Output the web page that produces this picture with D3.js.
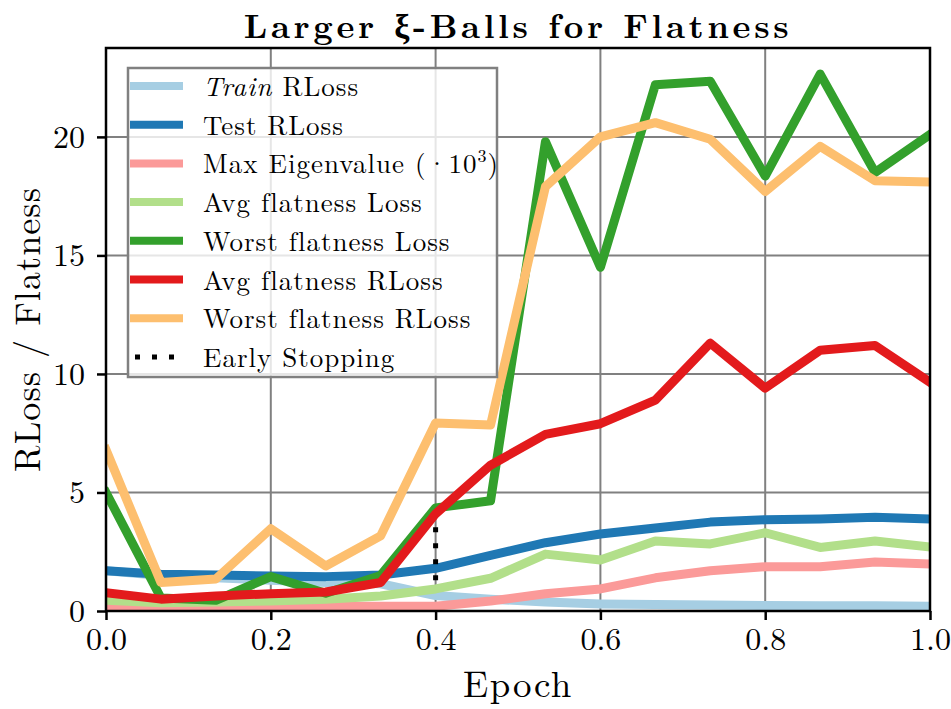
<!DOCTYPE html>
<html>
<head>
<meta charset="utf-8">
<script src="https://cdn.jsdelivr.net/npm/d3@7"></script>
<style>
  body { margin: 0; background: #fff; }
  text { font-family: "Latin Modern Roman", "Liberation Serif", "DejaVu Serif", serif; fill: #000; }
</style>
</head>
<body>
<div id="chart"></div>
<script>
// data
const epochs = [0, 0.0667, 0.1333, 0.2, 0.2667, 0.3333, 0.4, 0.4667, 0.5333, 0.6, 0.6667, 0.7333, 0.8, 0.8667, 0.9333, 1.0];
const trainRLoss = [1.7, 1.5, 1.4, 1.3, 1.2, 1.15, 0.65, 0.5, 0.38, 0.3, 0.27, 0.25, 0.23, 0.22, 0.22, 0.2];
const testRLoss = [1.7, 1.55, 1.52, 1.48, 1.45, 1.52, 1.8, 2.35, 2.88, 3.25, 3.5, 3.75, 3.85, 3.88, 3.95, 3.88];
const maxEigen = [0.2, 0.2, 0.2, 0.2, 0.2, 0.2, 0.2, 0.42, 0.73, 0.93, 1.4, 1.7, 1.87, 1.87, 2.07, 1.98];
const avgFlatLoss = [0.45, 0.35, 0.38, 0.42, 0.5, 0.63, 0.93, 1.38, 2.4, 2.15, 2.95, 2.83, 3.3, 2.68, 2.95, 2.7];
const worstFlatLoss = [5.0, 0.55, 0.45, 1.45, 0.75, 1.5, 4.35, 4.65, 19.8, 14.5, 22.2, 22.35, 18.35, 22.65, 18.5, 20.1];
const avgFlatRLoss = [0.77, 0.5, 0.63, 0.73, 0.8, 1.2, 4.1, 6.15, 7.45, 7.9, 8.9, 11.3, 9.4, 11.0, 11.2, 9.65];
const worstFlatRLoss = [6.8, 1.2, 1.35, 3.47, 1.9, 3.17, 7.93, 7.85, 17.9, 20.0, 20.6, 19.9, 17.7, 19.6, 18.15, 18.1];
const earlyStop = {x: 0.4, y0: 1.3, y1: 3.6};
const xTicks = [0, 0.2, 0.4, 0.6, 0.8, 1.0];
const yTicks = [0, 5, 10, 15, 20];

const seriesList = [
  {name: "Train RLoss", values: trainRLoss, color: "#a6cee3"},
  {name: "Test RLoss", values: testRLoss, color: "#1f78b4"},
  {name: "Max Eigenvalue", values: maxEigen, color: "#fb9a99"},
  {name: "Avg flatness Loss", values: avgFlatLoss, color: "#b2df8a"},
  {name: "Worst flatness Loss", values: worstFlatLoss, color: "#33a02c"},
  {name: "Avg flatness RLoss", values: avgFlatRLoss, color: "#e31a1c"},
  {name: "Worst flatness RLoss", values: worstFlatRLoss, color: "#fdbf6f"}
];

// dimensions
const W = 951, H = 709;
const margin = {top: 48, right: 21, bottom: 98, left: 106},
    width = W - margin.left - margin.right,
    height = H - margin.top - margin.bottom;

const svg = d3.select("#chart")
  .append("svg")
  .attr("width", W)
  .attr("height", H);

const g = svg.append("g")
  .attr("transform", `translate(${margin.left},${margin.top})`);

const x = d3.scaleLinear().domain([0, 1]).range([0, width]);
const y = d3.scaleLinear().domain([0, 23.75]).range([height, 0]);

// grid
g.append("g").selectAll("line")
  .data(xTicks)
  .join("line")
  .attr("x1", d => x(d)).attr("x2", d => x(d))
  .attr("y1", 0).attr("y2", height)
  .attr("stroke", "#808080").attr("stroke-width", 2);
g.append("g").selectAll("line")
  .data(yTicks)
  .join("line")
  .attr("x1", 0).attr("x2", width)
  .attr("y1", d => y(d)).attr("y2", d => y(d))
  .attr("stroke", "#808080").attr("stroke-width", 2);

// clip
svg.append("defs").append("clipPath").attr("id", "clip")
  .append("rect").attr("width", width).attr("height", height);

const plot = g.append("g").attr("clip-path", "url(#clip)");

const line = d3.line()
  .x((d, i) => x(epochs[i]))
  .y(d => y(d));

plot.selectAll(".series")
  .data(seriesList)
  .join("path")
  .attr("class", "series")
  .attr("d", d => line(d.values))
  .attr("fill", "none")
  .attr("stroke", d => d.color)
  .attr("stroke-width", 9)
  .attr("stroke-linejoin", "round")
  .attr("stroke-linecap", "square");

// early stopping
plot.append("line")
  .attr("x1", x(earlyStop.x)).attr("x2", x(earlyStop.x))
  .attr("y1", y(earlyStop.y0)).attr("y2", y(earlyStop.y1))
  .attr("stroke", "#000")
  .attr("stroke-width", 5)
  .attr("stroke-dasharray", "5,11");

// axes
const xAxis = g.append("g")
  .attr("transform", `translate(0,${height})`)
  .call(d3.axisBottom(x).tickValues(xTicks).tickFormat(d3.format(".1f")).tickSize(9).tickPadding(7));
const yAxis = g.append("g")
  .call(d3.axisLeft(y).tickValues(yTicks).tickSize(9).tickPadding(12));
[xAxis, yAxis].forEach(a => {
  a.select(".domain").remove();
  a.selectAll(".tick line").attr("stroke", "#000").attr("stroke-width", 2.5);
  a.selectAll(".tick text").attr("font-size", 32).attr("font-family", null).attr("fill", "#000");
});

// frame
g.append("rect")
  .attr("width", width).attr("height", height)
  .attr("fill", "none").attr("stroke", "#000").attr("stroke-width", 2.5);

// title and axis labels
svg.append("text")
  .attr("x", margin.left + width / 2).attr("y", 38)
  .attr("text-anchor", "middle")
  .attr("font-size", 34).attr("font-weight", "bold")
  .attr("letter-spacing", 3.6)
  .text("Larger ξ-Balls for Flatness");

svg.append("text")
  .attr("x", margin.left + width / 2).attr("y", 697)
  .attr("text-anchor", "middle")
  .attr("font-size", 37)
  .attr("letter-spacing", 1.5)
  .text("Epoch");

svg.append("text")
  .attr("transform", `translate(40,${margin.top + height / 2}) rotate(-90)`)
  .attr("text-anchor", "middle")
  .attr("font-size", 36)
  .attr("letter-spacing", 1.1)
  .text("RLoss / Flatness");

// legend
const legend = g.append("g").attr("transform", "translate(22,20)");
legend.append("rect")
  .attr("width", 369).attr("height", 309)
  .attr("fill", "#fff").attr("fill-opacity", 0.8)
  .attr("stroke", "#808080").attr("stroke-width", 2.5);

const legendItems = seriesList.concat([{name: "Early Stopping", color: "#000", dotted: true}]);
const rows = legend.selectAll(".legend")
  .data(legendItems)
  .join("g")
  .attr("class", "legend")
  .attr("transform", (d, i) => `translate(0,${18 + i * 38.7})`);

rows.append("line")
  .attr("x1", d => d.dotted ? 7 : 2).attr("x2", 55)
  .attr("stroke", d => d.color)
  .attr("stroke-width", d => d.dotted ? 5 : 8)
  .attr("stroke-dasharray", d => d.dotted ? "5,12" : null);

rows.append("text")
  .attr("x", 75).attr("y", 10)
  .attr("font-size", 27)
  .attr("letter-spacing", 1)
  .each(function(d) {
    const t = d3.select(this);
    if (d.name === "Train RLoss") {
      t.append("tspan").attr("font-style", "italic").text("Train");
      t.append("tspan").text(" RLoss");
    } else if (d.name === "Max Eigenvalue") {
      t.append("tspan").text("Max Eigenvalue (·10");
      t.append("tspan").attr("font-size", 18).attr("dy", -11).text("3");
      t.append("tspan").attr("dy", 11).text(")");
    } else {
      t.text(d.name);
    }
  });
</script>
</body>
</html>
